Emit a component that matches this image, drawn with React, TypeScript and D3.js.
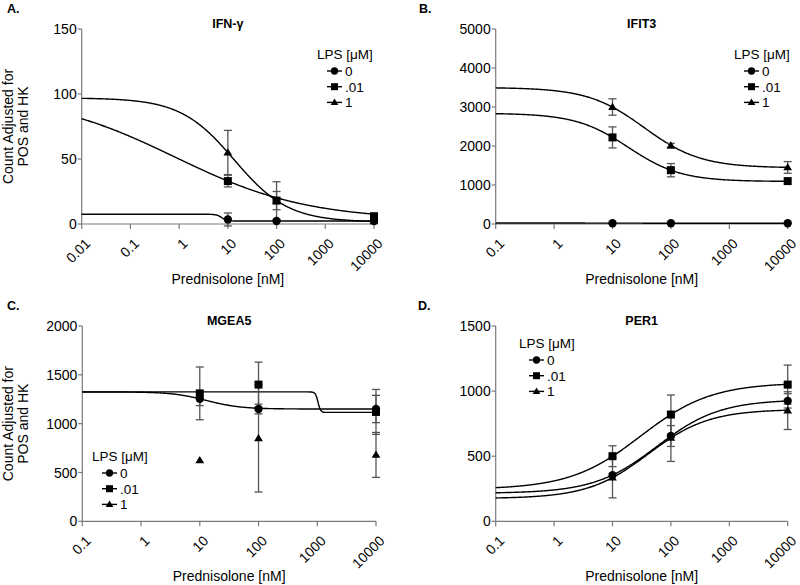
import React from "react";
import * as d3 from "d3";

// ---------- DATA ----------
const doses = [10, 100, 10000];
const seriesNames = ["0", ".01", "1"];
const markerShapes = ["circle", "square", "triangle"];

// Panel A: IFN-γ
const ifnMean0 = [3.5, 2.3, 2.3];
const ifnErr0 = [5, 0, 0];
const ifnMean01 = [33, 18, 6];
const ifnErr01 = [4.5, 7, 0];
const ifnMean1 = [55, 18, 2];
const ifnErr1 = [17, 14.5, 0];
// fit params: [low-dose value, high-dose value, EC50, hill]
const ifnFit0 = [7.5, 2.3, 7.5, 8];
const ifnFit01 = [100, 3, 0.82, 0.32];
const ifnFit1 = [97, 1.5, 13.6, 0.785];
const ifnYTicks = [0, 50, 100, 150];

// Panel B: IFIT3
const ifitMean0 = [20, 20, 20];
const ifitErr0 = [0, 0, 0];
const ifitMean01 = [2220, 1380, 1100];
const ifitErr01 = [270, 170, 0];
const ifitMean1 = [3000, 2010, 1450];
const ifitErr1 = [210, 60, 150];
const ifitFit0 = [25, 20, 10, 1];
const ifitFit01 = [2840, 1090, 18.7, 0.963];
const ifitFit1 = [3500, 1440, 35, 0.9];
const ifitYTicks = [0, 1000, 2000, 3000, 4000, 5000];

// Panel C: MGEA5
const mgeaMean0 = [1255, 1150, 1150];
const mgeaErr0 = [70, 50, 140];
const mgeaMean01 = [1310, 1400, 1120];
const mgeaErr01 = [270, 230, 230];
const mgeaMean1 = [625, 850, 680];
const mgeaErr1 = [0, 550, 230];
const mgeaFit0 = [1325, 1150, 13, 1.5];
const mgeaFit01 = [1325, 1115, 1030, 20];
const mgeaYTicks = [0, 500, 1000, 1500, 2000];

// Panel D: PER1
const perMean0 = [355, 655, 925];
const perErr0 = [0, 80, 55];
const perMean01 = [500, 820, 1050];
const perErr01 = [80, 150, 150];
const perMean1 = [335, 640, 850];
const perErr1 = [155, 180, 145];
const perFit0 = [215, 935, 57.6, 0.81];
const perFit01 = [245, 1065, 30.4, 0.717];
const perFit1 = [175, 860, 41, 0.84];
const perYTicks = [0, 500, 1000, 1500];

const xTicksA = [0.01, 0.1, 1, 10, 100, 1000, 10000];
const xTickLabelsA = ["0.01", "0.1", "1", "10", "100", "1000", "10000"];
const xTicksB = [0.1, 1, 10, 100, 1000, 10000];
const xTickLabelsB = ["0.1", "1", "10", "100", "1000", "10000"];

const FONT = "'Liberation Sans', Arial, sans-serif";
const AXIS = "#7a7a7a";
const ERR = "#555";

type Series = { mean: number[]; err: number[]; fit: number[] | null };
type PanelCfg = {
  letter: string;
  title: string;
  left: number;
  right: number;
  top: number;
  bottom: number;
  xDomain: [number, number];
  xTicks: number[];
  xLabels: string[];
  yMax: number;
  yTicks: number[];
  series: Series[];
  legendX: number;
  legendY: number;
  yLabel: boolean;
  letterX: number;
};

const hill = (p: number[], x: number) => p[1] + (p[0] - p[1]) / (1 + Math.pow(x / p[2], p[3]));

function Marker({ shape, x, y, s }: { shape: string; x: number; y: number; s: number }) {
  if (shape === "circle") return <circle cx={x} cy={y} r={s * 0.52} fill="#000" />;
  if (shape === "square")
    return <rect x={x - s / 2} y={y - s / 2} width={s} height={s} fill="#000" />;
  const h = s * 0.9;
  return (
    <path
      d={`M${x},${y - h * 0.6} L${x + s * 0.55},${y + h * 0.4} L${x - s * 0.55},${y + h * 0.4} Z`}
      fill="#000"
    />
  );
}

function Panel({ cfg }: { cfg: PanelCfg }) {
  const x = d3.scaleLog().domain(cfg.xDomain).range([cfg.left, cfg.right]);
  const y = d3.scaleLinear().domain([0, cfg.yMax]).range([cfg.bottom, cfg.top]);
  const samples = d3.range(0, 401).map((i) => {
    const l0 = Math.log10(cfg.xDomain[0]);
    const l1 = Math.log10(cfg.xDomain[1]);
    return Math.pow(10, l0 + ((l1 - l0) * i) / 400);
  });
  const cx = (cfg.left + cfg.right) / 2;
  const cy = (cfg.top + cfg.bottom) / 2;
  return (
    <g>
      <text x={cfg.letterX} y={cfg.top - 16} fontFamily={FONT} fontWeight="bold" fontSize={12.5}>
        {cfg.letter}
      </text>
      <text x={cx} y={cfg.top - 1} textAnchor="middle" fontFamily={FONT} fontWeight="bold" fontSize={12.5}>
        {cfg.title}
      </text>
      {/* axes */}
      <line x1={cfg.left} x2={cfg.left} y1={cfg.top} y2={cfg.bottom} stroke={AXIS} strokeWidth={1.2} />
      <line x1={cfg.left} x2={cfg.right} y1={cfg.bottom} y2={cfg.bottom} stroke={AXIS} strokeWidth={1.2} />
      {cfg.yTicks.map((t) => (
        <g key={"y" + t}>
          <line x1={cfg.left - 4} x2={cfg.left} y1={y(t)} y2={y(t)} stroke={AXIS} strokeWidth={1.2} />
          <text
            x={cfg.left - 5}
            y={y(t)}
            dy="0.36em"
            textAnchor="end"
            fontFamily={FONT}
            fontSize={14}
          >
            {t}
          </text>
        </g>
      ))}
      {cfg.xTicks.map((t, i) => (
        <g key={"x" + t}>
          <line x1={x(t)} x2={x(t)} y1={cfg.bottom} y2={cfg.bottom + 5} stroke={AXIS} strokeWidth={1.2} />
          <text
            transform={`translate(${x(t) + 6},${cfg.bottom + 17}) rotate(-45)`}
            dy="0.35em"
            textAnchor="end"
            fontFamily={FONT}
            fontSize={14}
          >
            {cfg.xLabels[i]}
          </text>
        </g>
      ))}
      <text x={cx} y={cfg.bottom + 60} textAnchor="middle" fontFamily={FONT} fontSize={14}>
        Prednisolone [nM]
      </text>
      {cfg.yLabel && (
        <text
          transform={`translate(${cfg.left - 69},${cy}) rotate(-90)`}
          textAnchor="middle"
          fontFamily={FONT}
          fontSize={14}
        >
          <tspan x={0} dy={0}>Count Adjusted for</tspan>
          <tspan x={0} dy={15}>POS and HK</tspan>
        </text>
      )}
      {/* curves */}
      {cfg.series.map((s, k) =>
        s.fit ? (
          <path
            key={"c" + k}
            d={
              d3
                .line<number>()
                .x((d) => x(d))
                .y((d) => y(hill(s.fit as number[], d)))(samples) as string
            }
            fill="none"
            stroke="#000"
            strokeWidth={1.4}
          />
        ) : null
      )}
      {/* error bars */}
      {cfg.series.map((s, k) =>
        s.mean.map((m, i) =>
          s.err[i] > 0 ? (
            <g key={`e${k}-${i}`} stroke={ERR} strokeWidth={1.3}>
              <line x1={x(doses[i])} x2={x(doses[i])} y1={y(m - s.err[i])} y2={y(m + s.err[i])} />
              <line x1={x(doses[i]) - 4} x2={x(doses[i]) + 4} y1={y(m - s.err[i])} y2={y(m - s.err[i])} />
              <line x1={x(doses[i]) - 4} x2={x(doses[i]) + 4} y1={y(m + s.err[i])} y2={y(m + s.err[i])} />
            </g>
          ) : null
        )
      )}
      {/* markers */}
      {cfg.series.map((s, k) =>
        s.mean.map((m, i) => (
          <Marker key={`m${k}-${i}`} shape={markerShapes[k]} x={x(doses[i])} y={y(m)} s={8} />
        ))
      )}
      {/* legend */}
      <text x={cfg.legendX} y={cfg.legendY} dy="0.35em" fontFamily={FONT} fontSize={13.5}>
        LPS [μM]
      </text>
      {seriesNames.map((n, k) => {
        const ly = cfg.legendY + 17 + k * 15.7;
        const lx = cfg.legendX + 10;
        return (
          <g key={"l" + k}>
            <line x1={lx} x2={lx + 15} y1={ly} y2={ly} stroke="#000" strokeWidth={1.4} />
            <Marker shape={markerShapes[k]} x={lx + 7.5} y={ly} s={7} />
            <text x={lx + 18} y={ly} dy="0.36em" fontFamily={FONT} fontSize={13.5}>
              {n}
            </text>
          </g>
        );
      })}
    </g>
  );
}

const panels: PanelCfg[] = [
  {
    letter: "A.",
    title: "IFN-γ",
    left: 81.7,
    right: 374,
    top: 29,
    bottom: 224,
    xDomain: [0.01, 10000],
    xTicks: xTicksA,
    xLabels: xTickLabelsA,
    yMax: 150,
    yTicks: ifnYTicks,
    series: [
      { mean: ifnMean0, err: ifnErr0, fit: ifnFit0 },
      { mean: ifnMean01, err: ifnErr01, fit: ifnFit01 },
      { mean: ifnMean1, err: ifnErr1, fit: ifnFit1 },
    ],
    legendX: 317,
    legendY: 54,
    yLabel: true,
    letterX: 7,
  },
  {
    letter: "B.",
    title: "IFIT3",
    left: 495.7,
    right: 787.7,
    top: 29,
    bottom: 224,
    xDomain: [0.1, 10000],
    xTicks: xTicksB,
    xLabels: xTickLabelsB,
    yMax: 5000,
    yTicks: ifitYTicks,
    series: [
      { mean: ifitMean0, err: ifitErr0, fit: ifitFit0 },
      { mean: ifitMean01, err: ifitErr01, fit: ifitFit01 },
      { mean: ifitMean1, err: ifitErr1, fit: ifitFit1 },
    ],
    legendX: 734,
    legendY: 54,
    yLabel: false,
    letterX: 419,
  },
  {
    letter: "C.",
    title: "MGEA5",
    left: 82.3,
    right: 376,
    top: 326,
    bottom: 521.3,
    xDomain: [0.1, 10000],
    xTicks: xTicksB,
    xLabels: xTickLabelsB,
    yMax: 2000,
    yTicks: mgeaYTicks,
    series: [
      { mean: mgeaMean0, err: mgeaErr0, fit: mgeaFit0 },
      { mean: mgeaMean01, err: mgeaErr01, fit: mgeaFit01 },
      { mean: mgeaMean1, err: mgeaErr1, fit: null },
    ],
    legendX: 92,
    legendY: 456,
    yLabel: true,
    letterX: 7,
  },
  {
    letter: "D.",
    title: "PER1",
    left: 495.7,
    right: 787.7,
    top: 326,
    bottom: 521.3,
    xDomain: [0.1, 10000],
    xTicks: xTicksB,
    xLabels: xTickLabelsB,
    yMax: 1500,
    yTicks: perYTicks,
    series: [
      { mean: perMean0, err: perErr0, fit: perFit0 },
      { mean: perMean01, err: perErr01, fit: perFit01 },
      { mean: perMean1, err: perErr1, fit: perFit1 },
    ],
    legendX: 519,
    legendY: 343,
    yLabel: false,
    letterX: 418,
  },
];

export default function App() {
  return (
    <svg
      width={800}
      height={585}
      style={{ position: "absolute", left: 0, top: 0, background: "#fff" }}
    >
      <rect width={800} height={585} fill="#fff" />
      {panels.map((p) => (
        <Panel key={p.letter} cfg={p} />
      ))}
    </svg>
  );
}
